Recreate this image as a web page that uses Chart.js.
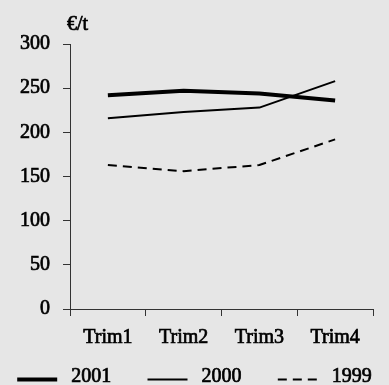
<!DOCTYPE html>
<html>
<head>
<meta charset="utf-8">
<script src="https://cdn.jsdelivr.net/npm/chart.js@4/dist/chart.umd.min.js"></script>
<style>
  html, body { margin: 0; padding: 0; background: #e6e6e6; }
  #wrap { width: 389px; height: 385px; }
</style>
</head>
<body>
<div id="wrap"><canvas id="c" width="389" height="385"></canvas></div>
<script>
// Quarterly price series, €/t
const quarters = ['Trim1', 'Trim2', 'Trim3', 'Trim4'];
const prices2001 = [242, 247, 244, 236];
const prices2000 = [216, 223, 228, 258];
const prices1999 = [163, 156, 163, 192];
const seriesNames = ['2001', '2000', '1999'];
const unitLabel = '€/t';

const FONT_FAMILY = '"Liberation Serif", "Times New Roman", serif';
const FONT_SIZE = 20;
const FONT_WEIGHT = 'normal';
const TEXT_STROKE = 0.7;   // thin outline to give the serif a medium weight
const AXIS_COLOR = '#333333';

// Paints the grey page colour behind everything
const backdrop = {
  id: 'backdrop',
  beforeDraw(chart) {
    const ctx = chart.ctx;
    ctx.save();
    ctx.fillStyle = '#e6e6e6';
    ctx.fillRect(0, 0, chart.width, chart.height);
    ctx.restore();
  }
};

function drawText(ctx, text, x, y) {
  ctx.fillText(text, x, y);
  ctx.lineWidth = TEXT_STROKE;
  ctx.strokeStyle = '#000';
  ctx.setLineDash([]);
  ctx.strokeText(text, x, y);
}

// Unit label above the value axis
const unitTitle = {
  id: 'unitTitle',
  afterDraw(chart) {
    const ctx = chart.ctx;
    ctx.save();
    ctx.font = FONT_WEIGHT + ' ' + FONT_SIZE + 'px ' + FONT_FAMILY;
    ctx.fillStyle = '#000';
    ctx.textAlign = 'left';
    ctx.textBaseline = 'alphabetic';
    drawText(ctx, unitLabel, chart.chartArea.left - 3, 30);
    ctx.restore();
  }
};

// Series key along the bottom: a line sample in each dataset's style, then its name
const seriesKey = {
  id: 'seriesKey',
  afterDraw(chart) {
    const ctx = chart.ctx;
    const sets = chart.data.datasets;
    const sample = 40, gap = 14, pitch = 130.3;
    const lineY = 379.5, textY = 381.5;
    ctx.save();
    ctx.font = FONT_WEIGHT + ' ' + FONT_SIZE + 'px ' + FONT_FAMILY;
    const lastW = sample + gap + ctx.measureText(sets[sets.length - 1].label).width;
    const total = pitch * (sets.length - 1) + lastW;
    let x = chart.width / 2 - total / 2;
    sets.forEach(d => {
      ctx.beginPath();
      ctx.setLineDash(d.borderDash || []);
      ctx.lineWidth = d.borderWidth;
      ctx.strokeStyle = d.borderColor;
      ctx.lineCap = 'butt';
      ctx.moveTo(x, lineY);
      ctx.lineTo(x + sample, lineY);
      ctx.stroke();
      ctx.fillStyle = '#000';
      ctx.textAlign = 'left';
      ctx.textBaseline = 'alphabetic';
      drawText(ctx, d.label, x + sample + gap, textY);
      x += pitch;
    });
    ctx.restore();
  }
};

Chart.defaults.font.family = FONT_FAMILY;
Chart.defaults.font.size = FONT_SIZE;
Chart.defaults.font.weight = FONT_WEIGHT;
Chart.defaults.color = '#000';

new Chart(document.getElementById('c'), {
  type: 'line',
  data: {
    labels: quarters,
    datasets: [
      { label: seriesNames[0], data: prices2001, borderColor: '#000', borderWidth: 4, borderDash: [] },
      { label: seriesNames[1], data: prices2000, borderColor: '#000', borderWidth: 2, borderDash: [] },
      { label: seriesNames[2], data: prices1999, borderColor: '#000', borderWidth: 2, borderDash: [9, 6] }
    ]
  },
  options: {
    responsive: false,
    animation: false,
    devicePixelRatio: 1,
    layout: { padding: { top: 44, right: 16, bottom: 30, left: 0 } },
    elements: {
      point: { radius: 0, hoverRadius: 0 },
      line: { tension: 0, fill: false, borderJoinStyle: 'round', borderCapStyle: 'butt' }
    },
    plugins: {
      legend: { display: false },
      tooltip: { enabled: false },
      title: { display: false }
    },
    scales: {
      x: {
        offset: true,
        grid: { offset: true, drawOnChartArea: false, tickLength: 7, tickColor: AXIS_COLOR, tickWidth: 1 },
        border: { color: AXIS_COLOR, width: 1 },
        ticks: { color: '#000', padding: 10, maxRotation: 0, textStrokeColor: '#000', textStrokeWidth: TEXT_STROKE },
        afterFit(scale) { scale.height = 46; }
      },
      y: {
        min: 0,
        max: 300,
        ticks: { stepSize: 50, color: '#000', padding: 13, textStrokeColor: '#000', textStrokeWidth: TEXT_STROKE },
        grid: { drawOnChartArea: false, tickLength: 7, tickColor: AXIS_COLOR, tickWidth: 1 },
        border: { color: AXIS_COLOR, width: 1 },
        afterFit(scale) { scale.width = 70; }
      }
    }
  },
  plugins: [backdrop, unitTitle, seriesKey]
});
</script>
</body>
</html>
